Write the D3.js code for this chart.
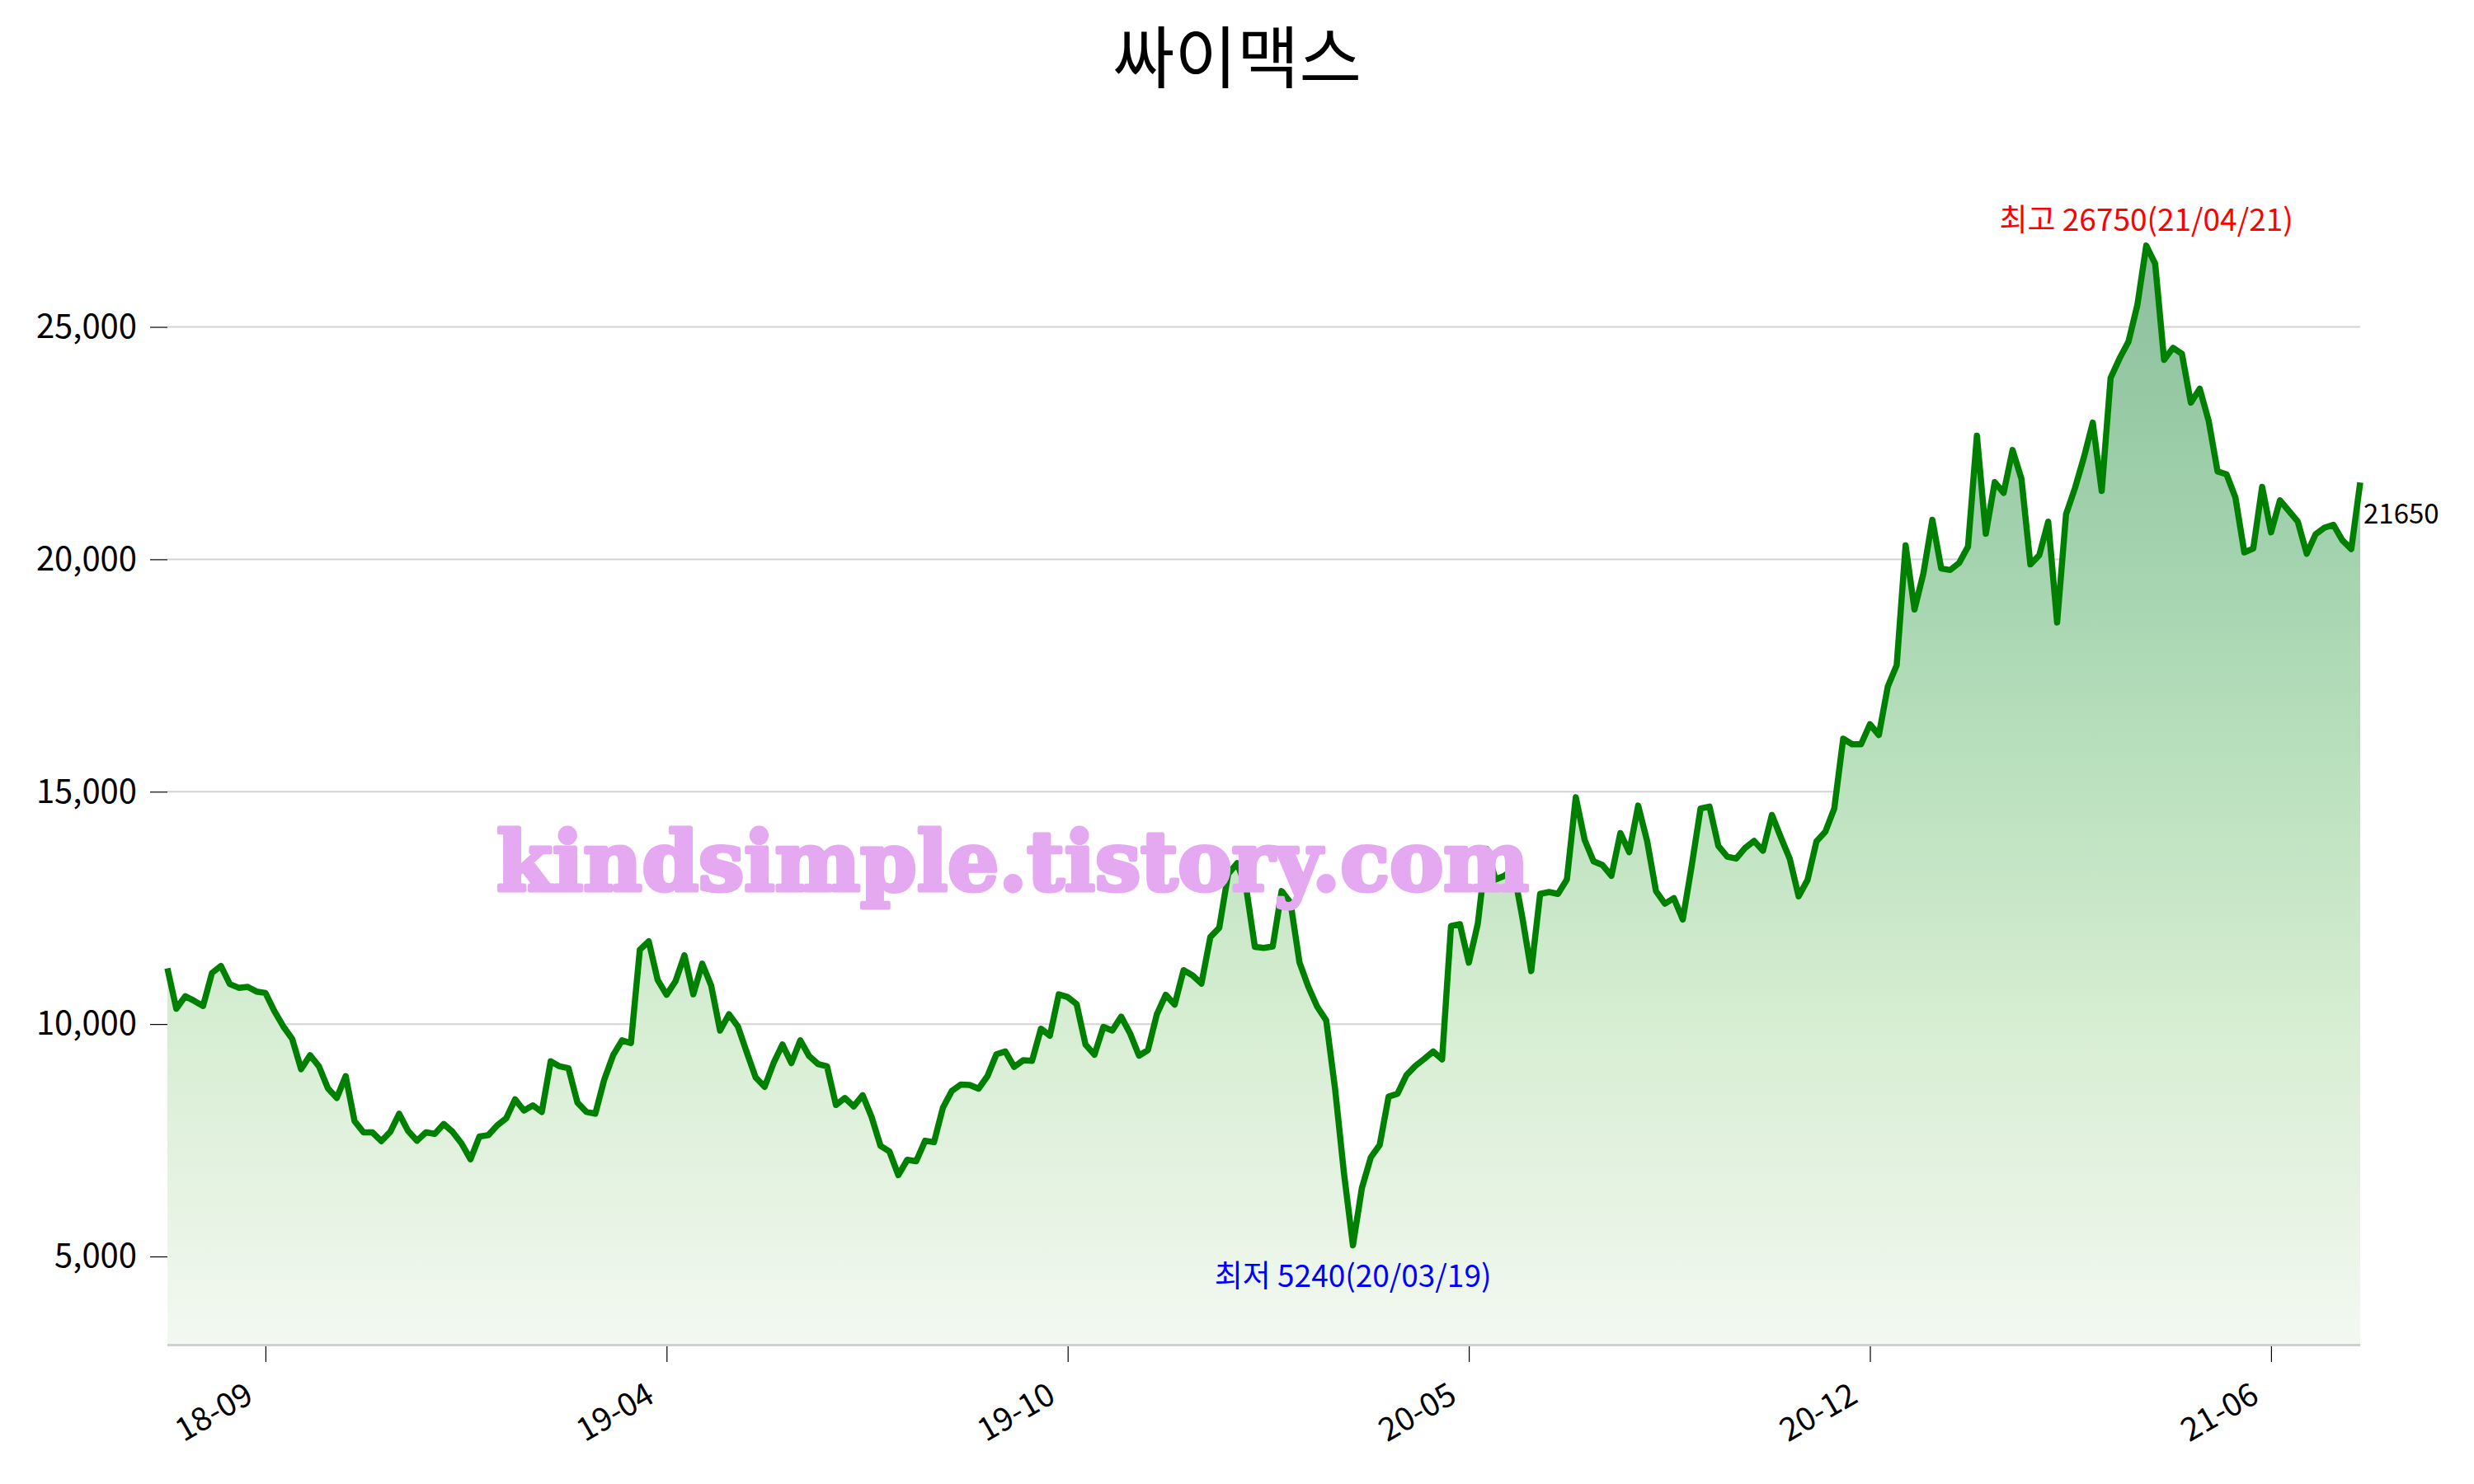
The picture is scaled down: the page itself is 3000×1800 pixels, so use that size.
<!DOCTYPE html>
<html>
<head>
<meta charset="utf-8">
<script src="https://cdn.jsdelivr.net/npm/d3@7"></script>
<style>
  html, body { margin: 0; padding: 0; background: #fff; }
  svg { display: block; }
</style>
</head>
<body>
<svg width="3000" height="1800"></svg>
<script>
// Chart data (closing prices, one point per ~3 trading days)
const title = "싸이맥스";
const prices = [
  11200, 10330, 10600, 10500, 10390, 11100, 11250, 10860, 10780, 10800,
  10700, 10670, 10280, 9950, 9680, 9030, 9330, 9090, 8620, 8410,
  8880, 7910, 7670, 7670, 7480, 7680, 8070, 7700, 7490, 7670,
  7640, 7850, 7680, 7430, 7090, 7580, 7610, 7820, 7970, 8380,
  8140, 8250, 8110, 9200, 9090, 9050, 8310, 8110, 8070, 8800,
  9330, 9650, 9590, 11600, 11780, 10950, 10630, 10920, 11480, 10640,
  11300, 10830, 9860, 10210, 9950, 9390, 8850, 8650, 9160, 9560,
  9160, 9650, 9310, 9140, 9090, 8260, 8410, 8230, 8470, 8000,
  7380, 7260, 6750, 7080, 7050, 7490, 7460, 8200, 8560, 8700,
  8690, 8610, 8880, 9350, 9410, 9080, 9220, 9210, 9900, 9750,
  10640, 10580, 10430, 9560, 9340, 9940, 9860, 10160, 9800, 9320,
  9440, 10210, 10630, 10420, 11160, 11050, 10870, 11870, 12070, 13230,
  13460, 12960, 11660, 11640, 11670, 12860, 12610, 11330, 10800, 10370,
  10080, 8600, 6780, 5240, 6470, 7130, 7400, 8440, 8500, 8900,
  9100, 9250, 9410, 9240, 12110, 12150, 11320, 12150, 13770, 13110,
  13190, 13340, 12300, 11140, 12800, 12840, 12800, 13110, 14880, 13960,
  13500, 13420, 13190, 14110, 13700, 14700, 13940, 12860, 12590, 12710,
  12250, 13400, 14640, 14680, 13830, 13600, 13560, 13790, 13940, 13730,
  14500, 14020, 13560, 12750, 13100, 13930, 14140, 14640, 16140, 16020,
  16020, 16450, 16220, 17260, 17720, 20300, 18920, 19700, 20850, 19800,
  19770, 19920, 20270, 22660, 20550, 21660, 21430, 22350, 21730, 19890,
  20090, 20810, 18640, 20970, 21530, 22190, 22940, 21470, 23900, 24320,
  24680, 25470, 26750, 26360, 24290, 24550, 24420, 23370, 23670, 22980,
  21890, 21830, 21330, 20150, 20230, 21560, 20580, 21270, 21040, 20810,
  20120, 20540, 20680, 20740, 20410, 20220, 21650
];
const tickIndex = [11, 56, 101, 146, 191, 236];
const tickLabels = ["18-09", "19-04", "19-10", "20-05", "20-12", "21-06"];
const yTicks = [5000, 10000, 15000, 20000, 25000];
const highDate = "21/04/21";
const lowDate = "20/03/19";
const watermark = "kindsimple.tistory.com";

const W = 3000, H = 1800;
const plotLeft = 203, plotRight = 2862, plotTop = 171, plotBottom = 1630;
const font = "'Noto Sans CJK KR', 'Noto Sans', sans-serif";

const svg = d3.select("svg");

const x = d3.scaleLinear().domain([0, prices.length - 1]).range([plotLeft, plotRight]);
const y = d3.scaleLinear().domain([3120, 29000]).range([plotBottom, plotTop]);

// Gradient for area fill
const defs = svg.append("defs");
const grad = defs.append("linearGradient")
    .attr("id", "fillGrad")
    .attr("gradientUnits", "userSpaceOnUse")
    .attr("x1", 0).attr("x2", 0)
    .attr("y1", y(d3.max(prices))).attr("y2", plotBottom);
[
  [0, "#8dbf9d"],
  [0.28, "#a3d3ae"],
  [0.5, "#bde2bf"],
  [0.72, "#d8eed4"],
  [0.9, "#e9f4e6"],
  [1, "#f3f9f1"]
].forEach(s => grad.append("stop").attr("offset", s[0]).attr("stop-color", s[1]));

// Gridlines
svg.append("g")
    .selectAll("line")
    .data(yTicks)
    .join("line")
    .attr("x1", plotLeft).attr("x2", plotRight)
    .attr("y1", d => y(d)).attr("y2", d => y(d))
    .attr("stroke", "#d3d3d3")
    .attr("stroke-width", 2);

// Area
const area = d3.area()
    .x((d, i) => x(i))
    .y0(plotBottom)
    .y1(d => y(d));
svg.append("path")
    .datum(prices)
    .attr("d", area)
    .attr("fill", "url(#fillGrad)");

// Y axis
const yAxis = svg.append("g")
    .attr("transform", `translate(${plotLeft},0)`)
    .call(d3.axisLeft(y).tickValues(yTicks).tickSize(21).tickPadding(16).tickFormat(d3.format(",")));
yAxis.select(".domain").remove();
yAxis.selectAll(".tick line").attr("stroke", "#000").attr("stroke-width", 1.2);
yAxis.selectAll(".tick text")
    .attr("font-family", font)
    .attr("font-size", 40)
    .attr("fill", "#000");

// X axis
const xAxis = svg.append("g")
    .attr("transform", `translate(0,${plotBottom})`)
    .call(d3.axisBottom(x).tickValues(tickIndex).tickSize(22).tickFormat((d, i) => tickLabels[i]));
xAxis.select(".domain")
    .attr("stroke", "#d0d0d0")
    .attr("stroke-width", 3)
    .attr("d", `M${plotLeft},1.5H${plotRight}`);
xAxis.selectAll(".tick line").attr("stroke", "#000").attr("stroke-width", 1.2).attr("y1", 3);
xAxis.selectAll(".tick text")
    .attr("font-family", font)
    .attr("font-size", 39)
    .attr("fill", "#000")
    .attr("text-anchor", "end")
    .attr("y", 0)
    .attr("dy", "0.72em")
    .attr("transform", "translate(-27,45) rotate(-30)");

// Price line
svg.append("path")
    .datum(prices)
    .attr("d", d3.line().x((d, i) => x(i)).y(d => y(d)))
    .attr("fill", "none")
    .attr("stroke", "green")
    .attr("stroke-width", 7.5)
    .attr("stroke-linejoin", "round");

// High / low / last annotations
const maxV = d3.max(prices), minV = d3.min(prices);
const maxI = prices.indexOf(maxV), minI = prices.indexOf(minV);
const lastI = prices.length - 1;

svg.append("text")
    .attr("x", x(maxI)).attr("y", y(maxV) - 18)
    .attr("text-anchor", "middle")
    .attr("font-family", font).attr("font-size", 37)
    .attr("fill", "red")
    .text(`최고 ${maxV}(${highDate})`);

svg.append("text")
    .attr("x", x(minI)).attr("y", y(minV) + 51)
    .attr("text-anchor", "middle")
    .attr("font-family", font).attr("font-size", 37)
    .attr("fill", "blue")
    .text(`최저 ${minV}(${lowDate})`);

svg.append("text")
    .attr("x", x(lastI) + 4).attr("y", y(prices[lastI]) + 50)
    .attr("font-family", font).attr("font-size", 33)
    .attr("fill", "#000")
    .text(prices[lastI]);

// Title
svg.append("text")
    .attr("x", W / 2).attr("y", 100)
    .attr("text-anchor", "middle")
    .attr("font-family", font).attr("font-size", 82)
    .attr("fill", "#000")
    .text(title);

// Watermark
svg.append("text")
    .attr("x", 602).attr("y", 1080)
    .attr("font-family", "'DejaVu Serif', serif")
    .attr("font-weight", "bold")
    .attr("font-size", 100)
    .attr("textLength", 1252)
    .attr("lengthAdjust", "spacingAndGlyphs")
    .attr("fill", "#e4a9f0")
    .attr("stroke", "#e4a9f0")
    .attr("stroke-width", 5)
    .attr("stroke-linejoin", "round")
    .text(watermark);
</script>
</body>
</html>
